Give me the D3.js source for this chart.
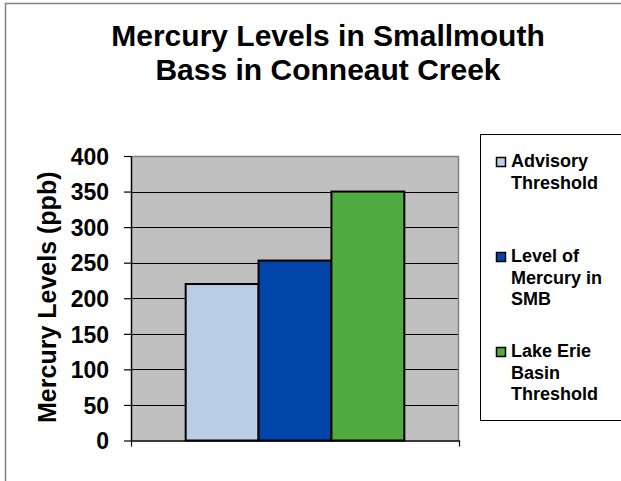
<!DOCTYPE html>
<html>
<head>
<meta charset="utf-8">
<script src="https://cdn.jsdelivr.net/npm/d3@7"></script>
<style>
  html, body { margin: 0; padding: 0; background: #fff; }
  svg text { font-family: "Liberation Sans", Arial, sans-serif; font-weight: bold; fill: #000; }
</style>
</head>
<body>
<svg id="chart" width="621" height="481"></svg>
<script>
// Mercury concentrations (ppb) in smallmouth bass, Conneaut Creek
const categories = [""];
const seriesNames = ["Advisory Threshold", "Level of Mercury in SMB", "Lake Erie Basin Threshold"];
const seriesValues = [220, 253, 350];
const seriesColors = ["#b9cde5", "#0046aa", "#50ab41"];
const legendLines = [["Advisory", "Threshold"], ["Level of", "Mercury in", "SMB"], ["Lake Erie", "Basin", "Threshold"]];
const yTicks = [0, 50, 100, 150, 200, 250, 300, 350, 400];
const titleLines = ["Mercury Levels in Smallmouth", "Bass in Conneaut Creek"];
const yTitle = "Mercury Levels (ppb)";

const svg = d3.select("#chart");

// outer chart frame (runs past the right and bottom edges)
svg.append("rect")
  .attr("x", 5.5).attr("y", 3.5)
  .attr("width", 660).attr("height", 520)
  .attr("fill", "#fff").attr("stroke", "#808080").attr("stroke-width", 1.5);

const plot = { left: 131, right: 459, top: 156, bottom: 440.5 };

const x0 = d3.scaleBand().domain(categories)
  .range([plot.left, plot.right]).paddingInner(0).paddingOuter(0.25);
const x1 = d3.scaleBand().domain(seriesNames)
  .range([0, x0.bandwidth()]).padding(0);
const y = d3.scaleLinear().domain([0, 400]).range([plot.bottom, plot.top]);

// plot background
svg.append("rect")
  .attr("x", plot.left).attr("y", plot.top)
  .attr("width", plot.right - plot.left).attr("height", plot.bottom - plot.top)
  .attr("fill", "#c0c0c0");

// horizontal gridlines
svg.append("g").selectAll("line")
  .data(yTicks.filter(v => v > 0 && v < 400))
  .join("line")
  .attr("x1", plot.left).attr("x2", plot.right)
  .attr("y1", d => Math.round(y(d)) + 0.5).attr("y2", d => Math.round(y(d)) + 0.5)
  .attr("stroke", "#000").attr("stroke-width", 1);

// top and right plot border
svg.append("path")
  .attr("d", `M${plot.left},${plot.top + 0.5}H${plot.right - 0.5}V${plot.bottom}`)
  .attr("fill", "none").attr("stroke", "#808080").attr("stroke-width", 1.5);

// bars
const bars = seriesNames.map((name, i) => ({ name, value: seriesValues[i], color: seriesColors[i] }));
svg.append("g").selectAll("rect")
  .data(bars)
  .join("rect")
  .attr("x", d => x0(categories[0]) + x1(d.name))
  .attr("y", d => y(d.value))
  .attr("width", x1.bandwidth())
  .attr("height", d => y(0) - y(d.value))
  .attr("fill", d => d.color)
  .attr("stroke", "#000").attr("stroke-width", 2);

// y axis
const yAxis = svg.append("g")
  .attr("transform", `translate(${plot.left},0)`)
  .call(d3.axisLeft(y).tickValues(yTicks).tickSize(7).tickPadding(15).tickSizeOuter(0));
yAxis.select(".domain").attr("stroke", "#000").attr("stroke-width", 1.5);
yAxis.selectAll(".tick line").attr("stroke", "#000").attr("stroke-width", 1.2);
yAxis.selectAll(".tick text").style("font-size", "23px").attr("dy", "0.36em");

// x axis (single unlabeled category, ticks at the category bounds)
const xAxisScale = d3.scaleLinear().domain([0, 1]).range([plot.left, plot.right]);
const xAxis = svg.append("g")
  .attr("transform", `translate(0,${plot.bottom})`)
  .call(d3.axisBottom(xAxisScale).tickValues([0, 1]).tickSize(6).tickSizeOuter(0).tickFormat(() => ""));
xAxis.select(".domain").attr("stroke", "#000").attr("stroke-width", 1.5);
xAxis.selectAll(".tick line").attr("stroke", "#000").attr("stroke-width", 1.2);

// y axis title
svg.append("text")
  .attr("transform", `translate(56,${(plot.top + plot.bottom) / 2 - 1}) rotate(-90)`)
  .attr("text-anchor", "middle")
  .style("font-size", "25px")
  .text(yTitle);

// chart title
svg.append("g").selectAll("text")
  .data(titleLines)
  .join("text")
  .attr("x", 328)
  .attr("y", (d, i) => 46 + i * 34)
  .attr("text-anchor", "middle")
  .style("font-size", "30px")
  .text(d => d);

// legend
svg.append("rect")
  .attr("x", 480.5).attr("y", 134.5)
  .attr("width", 200).attr("height", 286)
  .attr("fill", "#fff").attr("stroke", "#000").attr("stroke-width", 1);

const legend = svg.append("g").selectAll("g")
  .data(bars)
  .join("g")
  .attr("transform", (d, i) => `translate(496,${167 + i * 95})`);
legend.append("rect")
  .attr("x", 0.5).attr("y", -9.5)
  .attr("width", 9).attr("height", 9)
  .attr("fill", d => d.color).attr("stroke", "#000").attr("stroke-width", 1.5);
legend.append("text")
  .style("font-size", "18px")
  .selectAll("tspan")
  .data((d, i) => legendLines[i])
  .join("tspan")
  .attr("x", 15)
  .attr("y", (d, j) => j * 21.5)
  .text(d => d);
</script>
</body>
</html>
